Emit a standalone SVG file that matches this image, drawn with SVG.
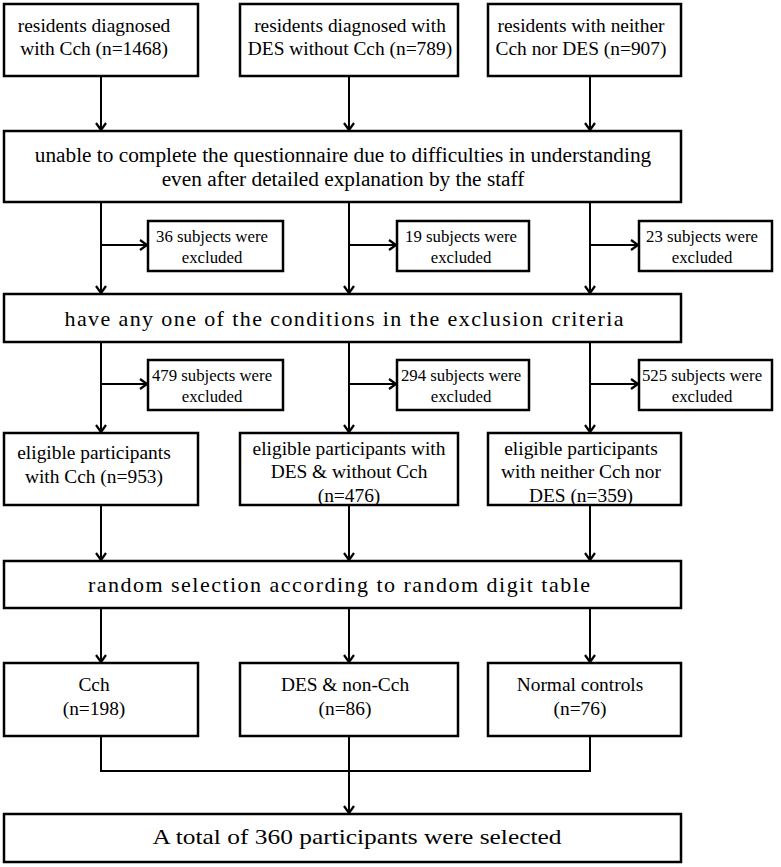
<svg xmlns="http://www.w3.org/2000/svg" width="781" height="867" viewBox="0 0 781 867" font-family="'Liberation Serif', 'Times New Roman', 'DejaVu Serif', serif">
<style>
.box{fill:#fff;stroke:#000;stroke-width:2.5}
.t{font-family:'Liberation Serif','Times New Roman','DejaVu Serif',serif;fill:#000;text-anchor:middle}
.s18{font-size:19.4px}
.s16{font-size:16.8px}
.s20{font-size:21.3px}
.s22{font-size:22px}
.c{fill:none;stroke:#000;stroke-width:2}
</style>
<defs>
<marker id="ah" markerUnits="userSpaceOnUse" markerWidth="14" markerHeight="14" refX="9" refY="6" orient="auto">
<path d="M2,1 L9,6 L2,11" fill="none" stroke="#000" stroke-width="2.2"/>
</marker>
</defs>
<rect width="781" height="867" fill="#fff"/>
<g id="connectors">
<line class="c" x1="101" y1="76" x2="101" y2="130" marker-end="url(#ah)"/>
<line class="c" x1="349" y1="76" x2="349" y2="130" marker-end="url(#ah)"/>
<line class="c" x1="590" y1="76" x2="590" y2="130" marker-end="url(#ah)"/>
<line class="c" x1="101" y1="202" x2="101" y2="293" marker-end="url(#ah)"/>
<line class="c" x1="349" y1="202" x2="349" y2="293" marker-end="url(#ah)"/>
<line class="c" x1="590" y1="202" x2="590" y2="293" marker-end="url(#ah)"/>
<line class="c" x1="101" y1="245" x2="147" y2="245" marker-end="url(#ah)"/>
<line class="c" x1="349" y1="245" x2="396" y2="245" marker-end="url(#ah)"/>
<line class="c" x1="590" y1="245" x2="638" y2="245" marker-end="url(#ah)"/>
<line class="c" x1="101" y1="342" x2="101" y2="432" marker-end="url(#ah)"/>
<line class="c" x1="349" y1="342" x2="349" y2="432" marker-end="url(#ah)"/>
<line class="c" x1="590" y1="342" x2="590" y2="432" marker-end="url(#ah)"/>
<line class="c" x1="101" y1="384" x2="147" y2="384" marker-end="url(#ah)"/>
<line class="c" x1="349" y1="384" x2="396" y2="384" marker-end="url(#ah)"/>
<line class="c" x1="590" y1="384" x2="638" y2="384" marker-end="url(#ah)"/>
<line class="c" x1="101" y1="505" x2="101" y2="560" marker-end="url(#ah)"/>
<line class="c" x1="349" y1="505" x2="349" y2="560" marker-end="url(#ah)"/>
<line class="c" x1="590" y1="505" x2="590" y2="560" marker-end="url(#ah)"/>
<line class="c" x1="101" y1="608" x2="101" y2="662" marker-end="url(#ah)"/>
<line class="c" x1="349" y1="608" x2="349" y2="662" marker-end="url(#ah)"/>
<line class="c" x1="590" y1="608" x2="590" y2="662" marker-end="url(#ah)"/>
<path class="c" d="M101,736 V771 H590 V736"/>
<line class="c" x1="349" y1="736" x2="349" y2="813" marker-end="url(#ah)"/>
</g>
<g id="n1"><rect class="box" x="4" y="4" width="194" height="72"/>
<text class="t s18" x="94" y="32">residents diagnosed</text>
<text class="t s18" x="94" y="55">with Cch (n=1468)</text></g>
<g id="n2"><rect class="box" x="240" y="4" width="218" height="72"/>
<text class="t s18" x="350" y="32">residents diagnosed with</text>
<text class="t s18" x="350" y="55">DES without Cch (n=789)</text></g>
<g id="n3"><rect class="box" x="488" y="4" width="193" height="72"/>
<text class="t s18" x="581" y="32">residents with neither</text>
<text class="t s18" x="581" y="55">Cch nor DES (n=907)</text></g>
<g id="n4"><rect class="box" x="4" y="131" width="677" height="71"/>
<text class="t s20" x="343" y="162">unable to complete the questionnaire due to difficulties in understanding</text>
<text class="t s20" x="343" y="186">even after detailed explanation by the staff</text></g>
<g id="e1"><rect class="box" x="148" y="221" width="135" height="50"/>
<text class="t s16" x="212" y="242">36 subjects were</text>
<text class="t s16" x="212" y="263">excluded</text></g>
<g id="e2"><rect class="box" x="397" y="221" width="132" height="50"/>
<text class="t s16" x="461" y="242">19 subjects were</text>
<text class="t s16" x="461" y="263">excluded</text></g>
<g id="e3"><rect class="box" x="639" y="221" width="133" height="50"/>
<text class="t s16" x="702" y="242">23 subjects were</text>
<text class="t s16" x="702" y="263">excluded</text></g>
<g id="n5"><rect class="box" x="4" y="294" width="677" height="48"/>
<text class="t s22" x="344" y="326" textLength="559">have any one of the conditions in the exclusion criteria</text></g>
<g id="e4"><rect class="box" x="148" y="360" width="135" height="50"/>
<text class="t s16" x="212" y="381">479 subjects were</text>
<text class="t s16" x="212" y="402">excluded</text></g>
<g id="e5"><rect class="box" x="397" y="360" width="132" height="50"/>
<text class="t s16" x="461" y="381">294 subjects were</text>
<text class="t s16" x="461" y="402">excluded</text></g>
<g id="e6"><rect class="box" x="639" y="360" width="133" height="50"/>
<text class="t s16" x="702" y="381">525 subjects were</text>
<text class="t s16" x="702" y="402">excluded</text></g>
<g id="n6"><rect class="box" x="4" y="433" width="194" height="72"/>
<text class="t s18" x="94" y="459">eligible participants</text>
<text class="t s18" x="94" y="483">with Cch (n=953)</text></g>
<g id="n7"><rect class="box" x="240" y="433" width="218" height="72"/>
<text class="t s18" x="349" y="455">eligible participants with</text>
<text class="t s18" x="349" y="478">DES &amp; without Cch</text>
<text class="t s18" x="349" y="502">(n=476)</text></g>
<g id="n8"><rect class="box" x="488" y="433" width="193" height="72"/>
<text class="t s18" x="581" y="455">eligible participants</text>
<text class="t s18" x="581" y="478">with neither Cch nor</text>
<text class="t s18" x="581" y="502">DES (n=359)</text></g>
<g id="n9"><rect class="box" x="4" y="561" width="677" height="47"/>
<text class="t s22" x="339" y="592" textLength="502">random selection according to random digit table</text></g>
<g id="n10"><rect class="box" x="4" y="663" width="194" height="73"/>
<text class="t s18" x="94" y="691">Cch</text>
<text class="t s18" x="94" y="715">(n=198)</text></g>
<g id="n11"><rect class="box" x="240" y="663" width="218" height="73"/>
<text class="t s18" x="345" y="691">DES &amp; non-Cch</text>
<text class="t s18" x="345" y="715">(n=86)</text></g>
<g id="n12"><rect class="box" x="488" y="663" width="193" height="73"/>
<text class="t s18" x="580" y="691">Normal controls</text>
<text class="t s18" x="580" y="715">(n=76)</text></g>
<g id="n13"><rect class="box" x="4" y="814" width="677" height="48"/>
<text class="t s22" x="357" y="844" textLength="409" lengthAdjust="spacingAndGlyphs">A total of 360 participants were selected</text></g>
</svg>
